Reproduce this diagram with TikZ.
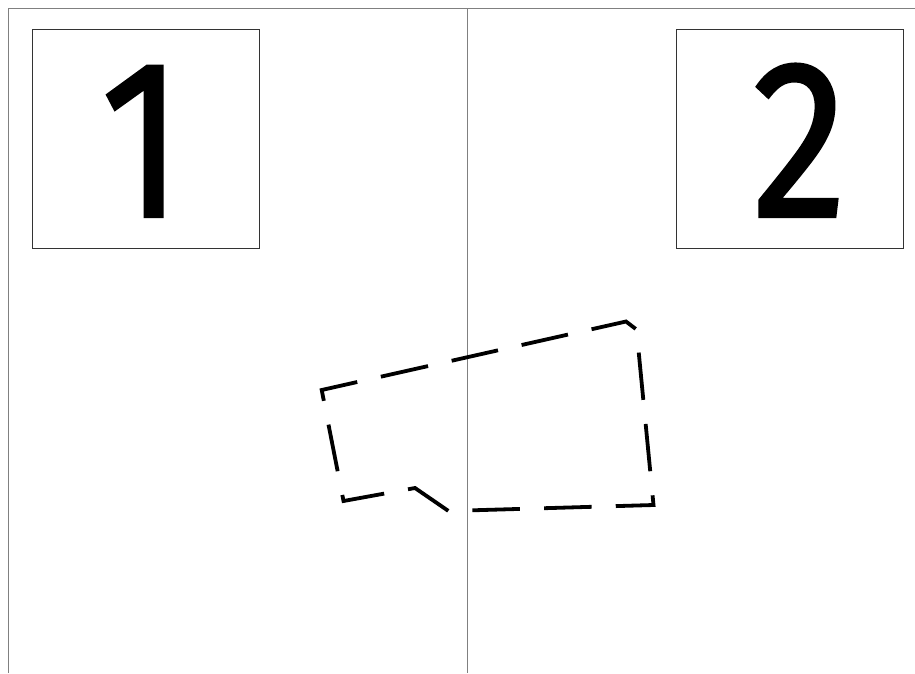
\documentclass[tikz,border=0pt]{standalone}
\usepackage{fontspec}
\newfontfamily\digitfont[FakeBold=1.3]{Fira Sans}
\usetikzlibrary{calc}
\begin{document}
\begin{tikzpicture}[x=1pt,y=-1pt,
  frame/.style={draw=black!50, line width=1.2pt},
  panel/.style={draw=black!80, line width=1pt, minimum width=227pt, minimum height=219pt, inner sep=0pt},
  digit/.style={font=\digitfont\fontsize{225}{225}\selectfont, inner sep=0pt, xscale=0.85},
  outline/.style={line width=3.8pt, line join=miter, dash pattern=on 47.5pt off 24.2pt}]
\useasboundingbox (0,0) rectangle (915,673);
\fill[white] (0,0) rectangle (915,673);
% frame
\draw[frame] (8.5,673) -- (8.5,8.5) -- (915,8.5);
\draw[frame] (467.5,8.5) -- (467.5,673);
% panels
\node[panel] (box1) at (145.5,138.5) {};
\node[panel] (box2) at (789.5,138.5) {};
\node[digit, anchor=base] (d1) at (142,216.7) {1};
\node[digit, anchor=base] (d2) at (799.5,216.7) {2};
% dashed outline
\coordinate (A) at (321.7,390);
\coordinate (B) at (626,321.5);
\coordinate (C) at (636.5,329.5);
\coordinate (D) at (653.5,505);
\coordinate (E) at (448.5,511);
\coordinate (F) at (415,488);
\coordinate (G) at (343.5,501);
\coordinate (S) at ($(A)!61.5pt!(B)$);
\draw[outline] (S) -- (B) -- (C) -- (D) -- (E) -- (F) -- (G) -- (A) -- (S);
\end{tikzpicture}
\end{document}
